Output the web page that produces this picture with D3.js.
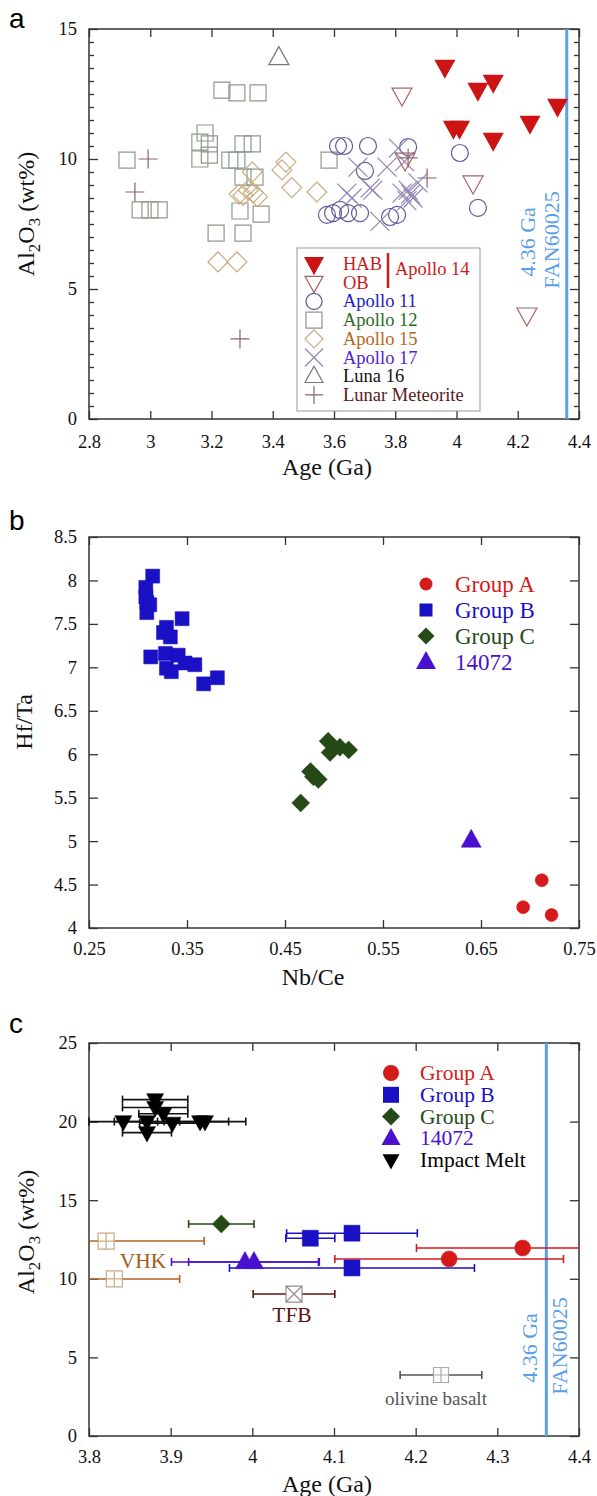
<!DOCTYPE html>
<html>
<head>
<meta charset="utf-8">
<script src="https://cdn.jsdelivr.net/npm/d3@7"></script>
<style>
body { margin: 0; background: #fff; }
</style>
</head>
<body>
<div id="chart"></div>
<script>
// ---- panel a : Al2O3 vs age ----
var habA = [[3.962,13.54],[4.07,12.65],[4.12,12.96],[4.33,12.04],[3.99,11.19],[4.01,11.19],[4.24,11.38],[4.12,10.73]];
var obA = [[3.822,12.46],[3.832,9.96],[4.054,9.08],[4.23,4.0]];
var apollo11 = [[3.613,10.5],[3.633,10.5],[3.711,10.5],[3.842,10.46],[4.011,10.23],[3.701,9.54],[3.577,7.85],[3.597,7.92],[3.62,8.04],[3.646,7.92],[3.685,7.92],[3.783,7.77],[3.806,7.85],[4.07,8.12]];
var apollo12 = [[3.234,12.65],[3.283,12.54],[3.352,12.54],[3.179,11.0],[3.162,10.65],[3.193,10.58],[3.303,10.58],[3.333,10.58],
  [2.924,9.96],[3.162,10.0],[3.193,10.15],[3.26,9.96],[3.283,9.96],[3.303,9.3],[3.342,9.3],
  [2.967,8.04],[2.999,8.04],[3.029,8.04],[3.293,8.0],[3.362,7.88],[3.215,7.15],[3.303,7.15],[3.584,9.96]];
var apollo15 = [[3.443,9.88],[3.43,9.58],[3.462,8.9],[3.333,9.5],[3.544,8.73],[3.303,8.6],[3.336,8.7],[3.35,8.55],
  [3.32,8.8],[3.29,8.65],[3.221,6.04],[3.283,6.04]];
var apollo17 = [[3.81,10.42],[3.678,9.69],[3.773,9.69],[3.642,8.69],[3.727,8.8],[3.659,8.5],[3.718,8.88],[3.75,7.6],
  [3.822,8.69],[3.842,8.8],[3.858,8.5],[3.874,9.08],[3.838,8.4],[3.85,8.65],[3.83,9.9]];
var luna16 = [[3.42,13.9]];
var meteorite = [[2.993,10.0],[2.95,8.73],[3.293,3.08],[3.842,10.04],[3.904,9.27]];

// ---- panel b : Hf/Ta vs Nb/Ce ----
var groupA_b = [[0.693,4.24],[0.712,4.55],[0.722,4.15]];
var groupB_b = [[0.315,8.05],[0.308,7.92],[0.308,7.81],[0.309,7.75],[0.312,7.72],[0.309,7.63],[0.345,7.56],[0.329,7.46],
  [0.326,7.40],[0.333,7.35],[0.313,7.12],[0.328,7.16],[0.341,7.14],[0.329,6.99],[0.334,6.95],[0.348,7.05],[0.358,7.03],
  [0.367,6.81],[0.381,6.88]];
var groupC_b = [[0.466,5.44],[0.476,5.80],[0.479,5.74],[0.484,5.71],[0.494,6.15],[0.496,6.02],[0.506,6.08],[0.515,6.05]];
var s14072_b = [[0.640,5.01]];

// ---- panel c : Al2O3 vs age with error (age, Al2O3, +/- age) ----
var groupA_c = [[4.331,11.96,0.13],[4.241,11.26,0.14]];
var groupB_c = [[4.071,12.58,0.03],[4.122,12.9,0.08],[4.122,10.69,0.15]];
var groupC_c = [[3.962,13.49,0.04]];
var s14072_c = [[3.991,11.07,0.09],[4.002,11.07,0.08]];
var impactMelt = [[3.842,20.0,0.042],[3.871,20.0,0.04],[3.902,19.9,0.04],[3.936,20.0,0.035],[3.942,20.0,0.05],
  [3.881,21.4,0.04],[3.881,20.9,0.04],[3.891,20.5,0.03],[3.871,19.3,0.03]];
var vhk = [[3.821,12.4,0.12],[3.831,9.99,0.08]];
var tfb = [[4.051,9.03,0.05]];
var olivineBasalt = [[4.231,3.88,0.05]];

var ticksAgeA = [2.8,3,3.2,3.4,3.6,3.8,4,4.2,4.4];
var ticksAlA = [0,5,10,15];
var ticksNbCe = [0.25,0.35,0.45,0.55,0.65,0.75];
var ticksHfTa = [4,4.5,5,5.5,6,6.5,7,7.5,8,8.5];
var ticksAgeC = [3.8,3.9,4,4.1,4.2,4.3,4.4];
var ticksAlC = [0,5,10,15,20,25];
var fan60025 = 4.36;

var W = 597, H = 1496;
var SERIF = "'Liberation Serif', 'Times New Roman', 'DejaVu Serif', serif";
var svg = d3.select("#chart").append("svg").attr("width", W).attr("height", H);

var blue = "#5aa0e6";

// marker path, s = full width
function shape(type, s) {
  var h = s / 2;
  var sq = "M" + (-h) + "," + (-h) + "h" + s + "v" + s + "h" + (-s) + "Z";
  switch (type) {
    case "circle": return "M" + (-h) + ",0a" + h + "," + h + " 0 1,0 " + s + ",0a" + h + "," + h + " 0 1,0 " + (-s) + ",0Z";
    case "square": return sq;
    case "diamond": return "M0," + (-h) + "L" + h + ",0L0," + h + "L" + (-h) + ",0Z";
    case "tri": return "M0," + (-0.55 * s) + "L" + h + "," + (0.35 * s) + "L" + (-h) + "," + (0.35 * s) + "Z";
    case "tridown": return "M0," + (0.55 * s) + "L" + h + "," + (-0.35 * s) + "L" + (-h) + "," + (-0.35 * s) + "Z";
    case "x": return "M" + (-h) + "," + (-h) + "L" + h + "," + h + "M" + (-h) + "," + h + "L" + h + "," + (-h);
    case "plus": return "M" + (-h) + ",0H" + h + "M0," + (-h) + "V" + h;
    case "sqplus": return sq + "M" + (-h) + ",0H" + h + "M0," + (-h) + "V" + h;
    case "sqx": return sq + "M" + (-h) + "," + (-h) + "L" + h + "," + h + "M" + (-h) + "," + h + "L" + h + "," + (-h);
  }
}

function points(data, x, y, type, s, fill, stroke, sw) {
  svg.append("g").selectAll("path").data(data).enter().append("path")
    .attr("transform", d => "translate(" + x(d[0]) + "," + y(d[1]) + ")")
    .attr("d", shape(type, s))
    .attr("fill", fill).attr("stroke", stroke).attr("stroke-width", sw || 1.2);
}

function errbars(data, x, y, color) {
  var g = svg.append("g").attr("stroke", color).attr("stroke-width", 1.6);
  var r = x.range();
  data.forEach(function(d) {
    var lo = x(d[0] - d[2]), hi = x(d[0] + d[2]), yy = y(d[1]);
    var l = Math.max(lo, r[0]), rr = Math.min(hi, r[1]);
    g.append("line").attr("x1", l).attr("x2", rr).attr("y1", yy).attr("y2", yy);
    if (lo >= r[0]) g.append("line").attr("x1", lo).attr("x2", lo).attr("y1", yy - 4).attr("y2", yy + 4);
    if (hi <= r[1]) g.append("line").attr("x1", hi).attr("x2", hi).attr("y1", yy - 4).attr("y2", yy + 4);
  });
}

function frame(x, y, xt, yt, yMinor, fmtX, fmtY, xPad) {
  var xr = x.range(), yr = y.range();
  var style = function(g) {
    g.select(".domain").remove();
    g.selectAll("line").attr("stroke", "#333").attr("stroke-width", 1.3);
    g.attr("font-size", 18.5);
    g.selectAll("text").attr("fill", "#111").style("font-family", SERIF);
  };
  svg.append("g").attr("transform", "translate(0," + yr[0] + ")")
    .call(d3.axisBottom(x).tickValues(xt).tickFormat(fmtX).tickSizeInner(-8).tickSizeOuter(0).tickPadding(xPad)).call(style);
  svg.append("g").attr("transform", "translate(0," + yr[1] + ")")
    .call(d3.axisTop(x).tickValues(xt).tickFormat("").tickSizeInner(-8).tickSizeOuter(0)).call(style);
  svg.append("g").attr("transform", "translate(" + xr[0] + ",0)")
    .call(d3.axisLeft(y).tickValues(yt).tickFormat(fmtY).tickSizeInner(-9).tickSizeOuter(0).tickPadding(12)).call(style);
  svg.append("g").attr("transform", "translate(" + xr[1] + ",0)")
    .call(d3.axisRight(y).tickValues(yt).tickFormat("").tickSizeInner(-9).tickSizeOuter(0)).call(style);
  if (yMinor) {
    svg.append("g").attr("transform", "translate(" + xr[0] + ",0)")
      .call(d3.axisLeft(y).tickValues(yMinor).tickFormat("").tickSizeInner(-5).tickSizeOuter(0)).call(style);
    svg.append("g").attr("transform", "translate(" + xr[1] + ",0)")
      .call(d3.axisRight(y).tickValues(yMinor).tickFormat("").tickSizeInner(-5).tickSizeOuter(0)).call(style);
  }
  svg.append("rect").attr("x", xr[0]).attr("y", yr[1]).attr("width", xr[1] - xr[0]).attr("height", yr[0] - yr[1])
    .attr("fill", "none").attr("stroke", "#333").attr("stroke-width", 1.5);
}

function txt(x, y, size, color, t) {
  return svg.append("text").attr("x", x).attr("y", y).attr("font-size", size).attr("fill", color)
    .style("font-family", SERIF).text(t);
}

function letter(t, x, y) {
  svg.append("text").attr("x", x).attr("y", y).attr("font-size", 28)
    .style("font-family", "'Liberation Sans', Arial, sans-serif").text(t);
}

function alTitle(cx, cy) {
  var t = svg.append("text").attr("transform", "translate(" + cx + "," + cy + ") rotate(-90)")
    .attr("text-anchor", "middle").attr("font-size", 24).attr("fill", "#111").style("font-family", SERIF);
  t.append("tspan").text("Al");
  t.append("tspan").attr("dy", 6).attr("font-size", 17).text("2");
  t.append("tspan").attr("dy", -6).text("O");
  t.append("tspan").attr("dy", 6).attr("font-size", 17).text("3");
  t.append("tspan").attr("dy", -6).text(" (wt%)");
}

function xTitle(t, cx, y) {
  txt(cx, y, 24, "#111", t).attr("text-anchor", "middle");
}

function fanLine(x, y, t1, t2) {
  var yr = y.range();
  svg.append("line").attr("x1", x(fan60025)).attr("x2", x(fan60025)).attr("y1", yr[1]).attr("y2", yr[0])
    .attr("stroke", blue).attr("stroke-width", 3);
  [t1, t2].forEach(function(p) {
    svg.append("text").attr("transform", "translate(" + p[0] + "," + p[1] + ") rotate(-90)")
      .attr("text-anchor", "middle").attr("font-size", 22).attr("fill", blue)
      .style("font-family", SERIF).text(p[2]);
  });
}

var fmt = d => String(d);

// ================= panel a =================
var xa = d3.scaleLinear().domain([2.8, 4.4]).range([89, 579]);
var ya = d3.scaleLinear().domain([0, 15]).range([419, 29]);
letter("a", 9, 28);
frame(xa, ya, ticksAgeA, ticksAlA, d3.range(0, 15, 0.5).filter(v => v % 5 !== 0), fmt, fmt, 16);
fanLine(xa, ya, [535, 242, "4.36 Ga"], [559, 240, "FAN60025"]);

points(apollo12, xa, ya, "square", 16, "none", "#8c9a8c");
points(apollo15, xa, ya, "diamond", 20, "none", "#c9ab82");
points(apollo11, xa, ya, "circle", 17, "none", "#5a5a9c");
points(apollo17, xa, ya, "x", 19, "none", "#9384b4");
points(luna16, xa, ya, "tri", 20, "none", "#777");
points(meteorite, xa, ya, "plus", 19, "none", "#8a6272");
points(obA, xa, ya, "tridown", 20, "none", "#a86464");
points(habA, xa, ya, "tridown", 19, "#cc1414", "#cc1414");

// legend a
var legA = [
  ["tridown", "#cc1414", "#cc1414", "HAB", "#cc1a1a"],
  ["tridown", "none", "#a86464", "OB", "#cc1a1a"],
  ["circle", "none", "#5a5a9c", "Apollo 11", "#1c1cc8"],
  ["square", "none", "#8c9a8c", "Apollo 12", "#2a6a24"],
  ["diamond", "none", "#c9ab82", "Apollo 15", "#b8661c"],
  ["x", "none", "#9384b4", "Apollo 17", "#5522d2"],
  ["tri", "none", "#777", "Luna 16", "#111"],
  ["plus", "none", "#8a6272", "Lunar Meteorite", "#5a1818"]
];
svg.append("rect").attr("x", 297).attr("y", 248).attr("width", 183).attr("height", 163)
  .attr("fill", "#fff").attr("stroke", "#999").attr("stroke-width", 1);
legA.forEach(function(d, i) {
  var cy = 264 + i * 18.7;
  svg.append("path").attr("transform", "translate(314," + cy + ")")
    .attr("d", shape(d[0], d[0] === "square" ? 16 : (d[0] === "circle" ? 16 : 18)))
    .attr("fill", d[1]).attr("stroke", d[2]).attr("stroke-width", 1.2);
  txt(343, cy + 6, 18.5, d[4], d[3]);
});
svg.append("line").attr("x1", 388).attr("x2", 388).attr("y1", 253).attr("y2", 288)
  .attr("stroke", "#cc1a1a").attr("stroke-width", 2.5);
txt(395, 275, 18.5, "#cc1a1a", "Apollo 14");

alTitle(34, 214);
xTitle("Age (Ga)", 327, 475);

// ================= panel b =================
var xb = d3.scaleLinear().domain([0.25, 0.75]).range([89, 579]);
var yb = d3.scaleLinear().domain([4, 8.5]).range([928, 537]);
letter("b", 9, 530);
frame(xb, yb, ticksNbCe, ticksHfTa, null, fmt, fmt, 14);

points(groupB_b, xb, yb, "square", 14, "#1a10c4", "#1a10c4", 0.5);
points(groupC_b, xb, yb, "diamond", 18, "#254a18", "#254a18", 0.5);
points(s14072_b, xb, yb, "tri", 20, "#4a10d0", "#4a10d0", 0.5);
points(groupA_b, xb, yb, "circle", 13, "#d41a1a", "#d41a1a", 0.5);

var legB = [
  ["circle", 13, "#d41a1a", "Group A"],
  ["square", 13, "#1a10c4", "Group B"],
  ["diamond", 17, "#254a18", "Group C"],
  ["tri", 20, "#4a10d0", "14072"]
];
legB.forEach(function(d, i) {
  var cy = 584 + i * 26;
  svg.append("path").attr("transform", "translate(426," + cy + ")").attr("d", shape(d[0], d[1])).attr("fill", d[2]);
  txt(455, cy + 8, 23, d[2], d[3]);
});

svg.append("text").attr("transform", "translate(32,722) rotate(-90)").attr("text-anchor", "middle")
  .attr("font-size", 24).attr("fill", "#111").style("font-family", SERIF).text("Hf/Ta");
xTitle("Nb/Ce", 313, 985);

// ================= panel c =================
var xc = d3.scaleLinear().domain([3.8, 4.4]).range([89, 579]);
var yc = d3.scaleLinear().domain([0, 25]).range([1436, 1043]);
letter("c", 9, 1033);
frame(xc, yc, ticksAgeC, ticksAlC, null, fmt, fmt, 14);
fanLine(xc, yc, [537, 1348, "4.36 Ga"], [567, 1346, "FAN60025"]);

errbars(vhk, xc, yc, "#b0621e");
errbars(tfb, xc, yc, "#5a1414");
errbars(olivineBasalt, xc, yc, "#555");
errbars(groupC_c, xc, yc, "#254a18");
errbars(s14072_c, xc, yc, "#4a10d0");
errbars(groupB_c, xc, yc, "#1a10c4");
errbars(groupA_c, xc, yc, "#d41a1a");
errbars(impactMelt, xc, yc, "#111");

points(vhk, xc, yc, "sqplus", 16, "#fff", "#c9ab82");
points(tfb, xc, yc, "sqx", 16, "#fff", "#9a8a8a");
points(olivineBasalt, xc, yc, "sqplus", 15, "#fff", "#aaa");
points(groupC_c, xc, yc, "diamond", 18, "#254a18", "#254a18", 0.5);
points(s14072_c, xc, yc, "tri", 19, "#4a10d0", "#4a10d0", 0.5);
points(groupB_c, xc, yc, "square", 16, "#1a10c4", "#1a10c4", 0.5);
points(groupA_c, xc, yc, "circle", 16, "#d41a1a", "#d41a1a", 0.5);
points(impactMelt, xc, yc, "tridown", 17, "#000", "#000", 0.5);

txt(143, 1268, 21.5, "#a85a1a", "VHK").attr("text-anchor", "middle");
txt(292, 1322, 21.5, "#5a1414", "TFB").attr("text-anchor", "middle");
txt(436, 1405, 19, "#555", "olivine basalt").attr("text-anchor", "middle");

var legC = [
  ["circle", 16, "#d41a1a", "Group A"],
  ["square", 16, "#1a10c4", "Group B"],
  ["diamond", 18, "#254a18", "Group C"],
  ["tri", 19, "#4a10d0", "14072"],
  ["tridown", 17, "#000", "Impact Melt"]
];
legC.forEach(function(d, i) {
  var cy = 1073 + i * 21.8;
  svg.append("path").attr("transform", "translate(391," + cy + ")").attr("d", shape(d[0], d[1])).attr("fill", d[2]);
  txt(420, cy + 7, 21.5, d[2], d[3]);
});

alTitle(34, 1232);
xTitle("Age (Ga)", 327, 1492);
</script>
</body>
</html>
